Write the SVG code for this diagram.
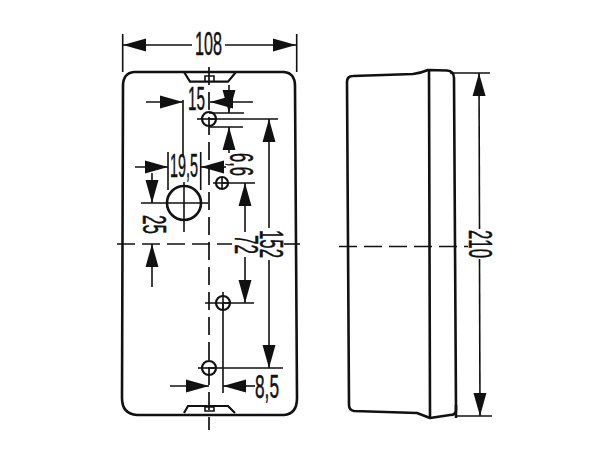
<svg xmlns="http://www.w3.org/2000/svg" width="612" height="459" viewBox="0 0 612 459">
<defs>
<marker id="ah" markerUnits="userSpaceOnUse" markerWidth="24" markerHeight="16" viewBox="0 -8 24 16" refX="23" refY="0" orient="auto"><path d="M0,-6.500 L23,0 L0,6.500 Z" fill="#111"/></marker>
</defs>
<style>
.b{fill:none;stroke:#111;stroke-width:2.6;stroke-linejoin:round}
.t{fill:none;stroke:#111;stroke-width:1.6}
.d{fill:none;stroke:#111;stroke-width:1.7;stroke-dasharray:18 7}
.h{fill:none;stroke:#111;stroke-width:2.2}
.a{fill:none;stroke:#111;stroke-width:1.6;marker-end:url(#ah)}
text{font-family:"Liberation Sans",Arial,sans-serif;font-size:34px;fill:#111;stroke:#111;stroke-width:.5}
</style>
<rect width="612" height="459" fill="#fff"/>
<g id="front-body">
<path class="b" d="M134,72 H284 Q295,73 295,86 L297,398 Q297,414 284,415 L137,415 Q122,414 122,398 L123,86 Q123,73 134,72 Z"/>
<path class="h" d="M184,72 L190,81.700 H228 L236,72"/>
<path class="t" d="M205,81.700 V76 H214 V81.700"/>
<path class="h" d="M184,413 L188,406 H228 L235,413"/>
<path class="t" d="M205,407 H214 V411 H205 Z"/>
</g>
<g id="hole-1"><circle class="h" cx="209" cy="119" r="7"/><path class="t" d="M197,119 H216"/></g>
<g id="hole-2"><circle class="h" cx="222" cy="183" r="6"/><path class="t" d="M213,183 H228 M222,177 V189"/></g>
<g id="hole-3"><circle class="h" cx="223" cy="303" r="7"/><path class="t" d="M205,303 H230 M223,292 V310"/></g>
<g id="hole-4"><circle class="h" cx="209" cy="368" r="7"/><path class="t" d="M198,368 H216"/></g>
<g id="lens"><circle class="b" cx="184" cy="203" r="17"/></g>
<g id="side-body">
<path class="b" d="M347,82 Q347,76 353,76 L413,74 Q421,73 428,70 L447,70.500 Q454,71 454,78 L456,410 Q456,415 450,415 L430,418 L417,413 L354,411 Q349,410 349,405 Z"/>
<path class="b" d="M429,70 L430,418 M456,405 V418"/>
</g>
<g id="connectors">
<path class="d" d="M209,67 V430"/>
<path class="d" d="M117,244 H232"/>
<path class="t" d="M284,244 H300"/>
<path class="d" d="M339,246.500 H468"/>
<path class="t" d="M122.700,34 V72 M296.700,34 V72"/>
<line class="a" x1="192" y1="45" x2="123" y2="45"/>
<line class="a" x1="225" y1="45" x2="296" y2="45"/>
<line class="a" x1="146" y1="102" x2="183" y2="102"/>
<line class="a" x1="253" y1="102" x2="210" y2="102"/>
<path class="t" d="M183,100 V155 M184,182 V232 M168,152 V190 M200.700,152 V190 M141,203 H208"/>
<path class="t" d="M209,113 H244 M209,127 H243 M209,119 H278 M222,183 H255 M223,303 H254 M209,368 H283 M223,303 V393"/>
<line class="a" x1="229" y1="85" x2="229" y2="113"/>
<line class="a" x1="229" y1="153" x2="229" y2="127"/>
<line class="a" x1="135" y1="167" x2="168" y2="167"/>
<line class="a" x1="226" y1="167" x2="201" y2="167"/>
<line class="a" x1="152" y1="173" x2="152" y2="203"/>
<line class="a" x1="152" y1="287" x2="152" y2="244"/>
<line class="a" x1="245" y1="232" x2="245" y2="183"/>
<line class="a" x1="245" y1="257" x2="245" y2="303"/>
<line class="a" x1="269" y1="228" x2="269" y2="119"/>
<line class="a" x1="269" y1="260" x2="269" y2="368"/>
<line class="a" x1="170" y1="386" x2="209" y2="386"/>
<line class="a" x1="255" y1="386" x2="223" y2="386"/>
<path class="t" d="M450,73 H490 M456,416 H492"/>
<line class="a" x1="479.500" y1="229" x2="479" y2="73"/>
<line class="a" x1="479.500" y1="259" x2="480" y2="416"/>
</g>
<g id="labels">
<text x="195" y="55" textLength="27" lengthAdjust="spacingAndGlyphs">108</text>
<text x="188" y="110" textLength="17" lengthAdjust="spacingAndGlyphs">15</text>
<text x="170" y="177" textLength="28" lengthAdjust="spacingAndGlyphs">19,5</text>
<text x="255" y="398" textLength="24" lengthAdjust="spacingAndGlyphs">8,5</text>
<text transform="translate(230,153) rotate(90)" textLength="23" lengthAdjust="spacingAndGlyphs">6,6</text>
<text transform="translate(143,215) rotate(90)" textLength="19" lengthAdjust="spacingAndGlyphs">25</text>
<text transform="translate(235,235) rotate(90)" textLength="19" lengthAdjust="spacingAndGlyphs">72</text>
<text transform="translate(260,230) rotate(90)" textLength="28" lengthAdjust="spacingAndGlyphs">152</text>
<text transform="translate(469,230) rotate(90)" textLength="28" lengthAdjust="spacingAndGlyphs">210</text>
</g>
</svg>
